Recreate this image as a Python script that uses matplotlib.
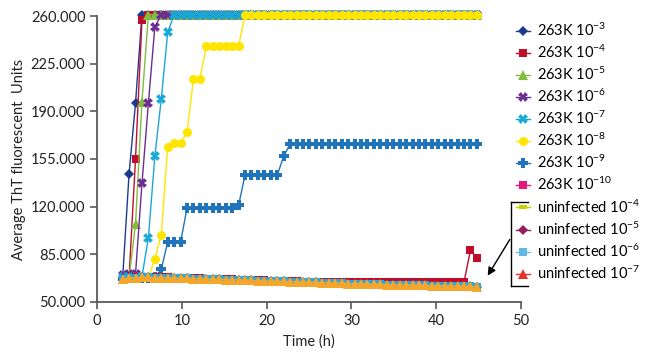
import matplotlib
matplotlib.use("Agg")
import matplotlib.pyplot as plt
from matplotlib.lines import Line2D
from matplotlib.ticker import FuncFormatter

plt.rcParams['font.family'] = ['Lato', 'DejaVu Sans']
plt.rcParams['mathtext.default'] = 'regular'

# sampling times (h)
time_h = [3.00, 3.76, 4.52, 5.28, 6.04, 6.80, 7.56, 8.32, 9.08, 9.84,
          10.60, 11.36, 12.12, 12.88, 13.64, 14.40, 15.16, 15.92, 16.68, 17.44,
          18.20, 18.96, 19.72, 20.48, 21.24, 22.00, 22.76, 23.52, 24.28, 25.04,
          25.80, 26.56, 27.32, 28.08, 28.84, 29.60, 30.36, 31.12, 31.88, 32.64,
          33.40, 34.16, 34.92, 35.68, 36.44, 37.20, 37.96, 38.72, 39.48, 40.24,
          41.00, 41.76, 42.52, 43.28, 44.04, 44.80]

# fluorescence, in thousands of units
k263_3 = [67.5, 144, 196] + [261] * 53
k263_4 = [67.5, 68, 155, 257] + [261] * 52
k263_5 = [67, 68, 107, 197] + [261] * 52
k263_6 = [70, 70.5, 70.5, 137, 196, 252] + [261] * 50
k263_7 = [68, 68.5, 68.5, 68.5, 97, 157, 199, 248] + [261] * 48
k263_8 = [67, 67.5, 67.5, 67.5, 67.5, 81.7, 99.4, 164, 167, 167, 174.5, 214, 214] + [238] * 6 + [261] * 37
k263_9 = [67, 67.5, 67.5, 67.5, 67.5, 68, 74, 94, 94, 94] + [119] * 8 + [121] + [143] * 6 + [157] + [166] * 30
k263_10 = [66.8, 67.8, 68.1, 68.3, 68.3, 68.2, 68.1, 68.0, 67.8, 67.7, 67.5, 67.4, 67.3, 67.1,
           67.0, 66.8, 66.7, 66.5, 66.4, 66.2, 66.1, 65.9, 65.8, 65.6, 65.5, 65.3, 65.2, 65.0,
           64.9, 64.8, 64.7] + [64.7] * 23 + [88, 82.5]

uninf_base = [66.5, 67.5, 67.8, 68.0, 68.0, 67.9, 67.8, 67.7, 67.5, 67.4, 67.2, 67.1, 67.0, 66.8,
              66.7, 66.5, 66.4, 66.2, 66.1, 65.9, 65.8, 65.6, 65.5, 65.3, 65.2, 65.0, 64.9, 64.7,
              64.6, 64.4, 64.3, 64.1, 64.0, 63.8, 63.7, 63.5, 63.4, 63.2, 63.1, 62.9, 62.8, 62.7,
              62.6, 62.5, 62.4, 62.3, 62.2, 62.1, 62.0, 61.9, 61.8, 61.7, 61.6, 61.5, 61.4, 61.3]
uninf_4 = uninf_base
uninf_5 = uninf_base
uninf_6 = uninf_base
uninf_7 = uninf_base

labels = ['263K 10$^{-3}$', '263K 10$^{-4}$', '263K 10$^{-5}$', '263K 10$^{-6}$',
          '263K 10$^{-7}$', '263K 10$^{-8}$', '263K 10$^{-9}$', '263K 10$^{-10}$',
          'uninfected 10$^{-4}$', 'uninfected 10$^{-5}$', 'uninfected 10$^{-6}$',
          'uninfected 10$^{-7}$']
series = [k263_3, k263_4, k263_5, k263_6, k263_7, k263_8, k263_9, k263_10,
          uninf_4, uninf_5, uninf_6, uninf_7]

dash = [(-1, -0.5), (1, -0.5), (1, 0.5), (-1, 0.5)]
# (plot colour, legend colour, marker, size)
styles = [
    ('#1b3c8c', '#1b3c8c', 'D', 5),
    ('#c00d2c', '#c00d2c', 's', 6),
    ('#82bc41', '#82bc41', '^', 6.5),
    ('#6b2d90', '#6b2d90', 'X', 7),
    ('#18a8d8', '#18a8d8', 'X', 7),
    ('#ffe500', '#ffe500', 'o', 6.5),
    ('#1f74bc', '#1f74bc', 'P', 7.5),
    ('#c00d2c', '#e6167f', 's', 6),
    ('#c5d200', '#c5d200', dash, 6),
    ('#9a1b5e', '#9a1b5e', 'D', 5.5),
    ('#29a9df', '#66b8e3', 's', 6),
    ('#f6a62b', '#e8312a', '^', 7),
]

fig = plt.figure(figsize=(6.48, 3.56), dpi=100)
ax = fig.add_axes([0.150, 0.152, 0.654, 0.803])

for vals, (pc, lc, mk, ms) in zip(series, styles):
    ax.plot(time_h, vals, color=pc, lw=1.0, marker=mk, ms=ms,
            markeredgewidth=0, clip_on=False)

ax.set_xlim(0, 50)
ax.set_ylim(50, 260)
ax.set_xticks(range(0, 51, 10))
ax.set_yticks(range(50, 261, 35))
ax.yaxis.set_major_formatter(FuncFormatter(lambda v, p: f"{int(v * 1000):,}".replace(",", ".")))
for s in ['top', 'right']:
    ax.spines[s].set_visible(False)
for s in ['left', 'bottom']:
    ax.spines[s].set_color('#595959')
    ax.spines[s].set_linewidth(1.3)
ax.tick_params(colors='#595959', labelcolor='#222222', labelsize=10.5, length=5, width=1.2)
ax.set_xlabel('Time (h)', fontsize=10.5, color='#222222', labelpad=5)
ax.set_ylabel('Average ThT fluorescent  Units', fontsize=10.5, color='#222222', labelpad=3)

handles = [Line2D([], [], color=lc, lw=1.0, marker=mk, ms=ms, markeredgewidth=0)
           for (pc, lc, mk, ms) in styles]
fig.legend(handles, labels, loc='upper left', bbox_to_anchor=(0.796, 0.94),
           frameon=False, fontsize=10.5, handlelength=1.0, handletextpad=0.45,
           labelspacing=0.33, borderpad=0, borderaxespad=0)

# bracket around the uninfected entries and arrow to the baseline curves
bx0, bx1, by0, by1 = 0.789, 0.815, 0.197, 0.433
for xs, ys in [([bx0, bx0], [by0, by1]), ([bx0, bx1], [by1, by1]), ([bx0, bx1], [by0, by0])]:
    fig.add_artist(Line2D(xs, ys, color='black', lw=1.0, transform=fig.transFigure))
ax.annotate('', xy=(45.9, 67.5), xycoords='data',
            xytext=(bx0, 0.334), textcoords='figure fraction',
            arrowprops=dict(arrowstyle='-|>', color='black', lw=1.0, mutation_scale=12),
            annotation_clip=False)

fig.savefig('out.png', dpi=100)
